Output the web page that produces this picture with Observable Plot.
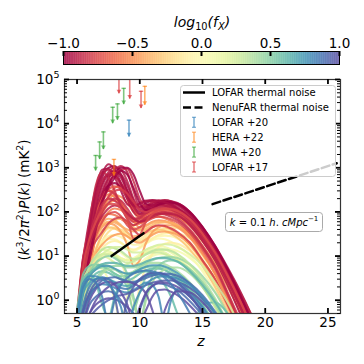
<!DOCTYPE html>
<html><head><meta charset="utf-8">
<script src="https://cdn.jsdelivr.net/npm/d3@7"></script>
<script src="https://cdn.jsdelivr.net/npm/@observablehq/plot@0.6"></script>
<style>
html,body{margin:0;padding:0;background:#fff;}
#chart svg{display:block;}
</style></head><body><div id="chart"></div>
<script>
const FONT = "DejaVu Sans";

// ---------- data ----------
const zGrid = [5,5.5,6,6.5,7,7.5,8,8.5,9,9.5,10,10.5,11,11.5,12,12.5,13,14,15,16,17,18,19,20];

const yellowFx = [0.00,-0.15,0.10,0.20,-0.10,0.05,-0.20,0.15,-0.05,0.10,-0.10];
const yellowP = [
 [0.3,3,8,14,20,24,24,20,15,13,15,19,23,25,24,21,17,10,4.5,1.6,0.45,0.11,0.03,0.01],
 [0.2,1.5,6,15,30,42,45,38,28,22,24,30,36,40,40,37,32,20,10,4,1.3,0.35,0.09,0.02],
 [0.5,4,7,9,11,12,11,9,8,9,11,14,16,17,16,14,11,6,2.6,0.9,0.25,0.06,0.02,0.01],
 [0.2,2,5,8,10,9,7,6,6.5,8,10,12,13,13,12,10,8,4.5,2,0.7,0.2,0.05,0.01,0.01],
 [0.1,0.6,3,8,15,20,22,20,16,14,16,20,25,30,33,34,33,25,15,7,2.8,0.9,0.25,0.05],
 [0.1,1,4,9,14,16,15,12,9,7,7,9,11,13,14,14,13,9,5,2.2,0.8,0.22,0.05,0.01],
 [0.1,0.5,3,10,22,35,42,40,32,24,22,26,32,38,42,44,43,34,21,10,4,1.3,0.35,0.07],
 [0.4,5,10,13,14,13,11,9,8,8.5,10,12.5,14.5,15,14,12,9.5,5,2.2,0.8,0.22,0.05,0.01,0.01],
 [0.2,2,7,14,22,28,30,27,22,18,18,21,25,28,29,28,25,16,8,3.2,1.1,0.3,0.07,0.01],
 [0.3,2.5,5,6,5,3,1,0.3,1.2,3,5.5,8,10,11,11,10,8.5,5,2.4,0.9,0.3,0.08,0.02,0.01],
 [0.1,1,3,6,9,11,10,7,3,0.6,2,6,11,16,19,20,19,13,7,3,1,0.3,0.08,0.02]
];

const orangeFx = [-0.60,-0.50,-0.40,-0.65,-0.30,-0.55,-0.45,-0.60,-0.35,-0.50,-0.40,-0.65,-0.45];
const orangeP = [
 [0.2,3,20,80,180,250,220,150,90,60,55,65,75,78,72,62,50,28,12,4,1.1,0.28,0.07,0.02],
 [0.1,1,8,35,90,150,180,150,100,60,45,50,60,65,62,55,45,26,11,4,1,0.25,0.06,0.01],
 [0.2,2,10,30,55,70,65,50,35,28,30,38,45,48,46,40,33,18,7.5,2.6,0.7,0.17,0.04,0.01],
 [0.1,0.5,5,30,100,220,350,400,300,150,80,75,90,100,100,92,80,48,22,8,2.3,0.6,0.15,0.03],
 [0.3,3,12,25,38,45,42,35,28,25,28,34,38,40,37,32,26,14,6,2,0.55,0.13,0.03,0.01],
 [0.1,0.8,6,25,60,100,120,110,85,65,60,70,82,90,92,88,80,55,30,13,5,1.5,0.4,0.08],
 [0.5,4,8,12,18,25,30,32,28,22,20,24,30,35,36,34,30,18,8,3,0.8,0.2,0.05,0.01],
 [0.2,5,18,40,70,90,85,70,55,50,55,68,80,88,90,86,78,50,25,10,3.2,0.9,0.22,0.05],
 [0.1,1,5,14,30,50,65,70,60,45,38,42,50,56,58,56,50,33,17,7,2.4,0.7,0.18,0.04],
 [0.2,2,12,45,110,190,240,220,160,100,70,70,80,88,90,86,78,48,23,9,2.8,0.75,0.18,0.04],
 [0.3,4,14,30,50,60,58,48,40,36,40,48,56,60,60,56,50,32,16,6.5,2.2,0.6,0.15,0.03],
 [0.2,6,30,100,220,300,260,170,100,70,70,85,100,110,112,108,98,62,30,11,3.4,0.9,0.2,0.04],
 [0.3,3,12,28,45,55,50,35,18,6,8,20,35,45,50,50,46,30,15,6,2,0.55,0.13,0.03]
];

const greenFx = [0.40,0.50,0.30,0.60,0.45,0.35,0.55,0.25,0.60,0.50,0.40];
const greenP = [
 [0.5,3,5,6,6.5,6,5,4.2,4,4.5,5.5,6.5,7,7,6.5,5.5,4.5,2.5,1.1,0.4,0.1,0.03,0.01,0.01],
 [0.2,1.5,3.5,5,5.5,5,4,3.2,2,0.6,1.5,3.5,5,6,5.5,4.6,3.6,1.9,0.8,0.28,0.07,0.02,0.01,0.01],
 [0.3,2.5,6,9,11,11,10,8,7,7.5,9,11,12,12,11,9.5,8,4.5,2,0.7,0.2,0.05,0.01,0.01],
 [0.1,0.8,2.5,4,4.5,4.2,3.5,3,2.8,3.2,4,4.8,5.2,5.2,4.8,4,3.2,1.7,0.75,0.26,0.07,0.02,0.01,0.01],
 [0.1,0.5,1.5,3,4.5,5.5,6,6,5.5,5.5,6,7,8,9,9.5,9.5,9,6.5,3.5,1.5,0.5,0.15,0.04,0.01],
 [0.2,2,6,10,14,16,15,13,10,8.5,9,11,13,14,14,13,11,6.5,3,1.1,0.3,0.08,0.02,0.01],
 [0.6,4,6,6.5,6,5,4,3.5,3.6,4.2,5,5.6,5.8,5.5,4.8,4,3.1,1.6,0.7,0.25,0.07,0.02,0.01,0.01],
 [0.1,1,3.5,7,11,14,16,16,14,12,12,14,16,18,18.5,18,16,11,6,2.5,0.9,0.25,0.06,0.01],
 [0.4,3,4,2.5,0.8,0.4,1.2,2.5,3.5,4.2,4.5,4.5,4,3.2,2.2,1.2,0.5,0.2,0.8,0.9,0.5,0.15,0.04,0.01],
 [0.2,1.5,4,7,9,10,9,7,4,1.2,0.3,1.2,3.5,6,7.5,8,7.5,5,2.5,1,0.3,0.08,0.02,0.01],
 [0.1,0.4,1.2,2.5,4,5,5,4,2.5,1,0.3,1,2.5,4,5,5.5,5.5,4,2,0.8,0.25,0.07,0.02,0.01]
];

const blueFx = [0.70,0.80,0.90,1.00,0.75,0.95,0.85,1.00,0.65,0.90,0.95,0.85,1.00,0.80];
const blueP = [
 [0.3,1.5,2.5,3,3.2,3,2.6,2.2,2.1,2.4,3,3.5,3.8,3.8,3.5,3,2.4,1.3,0.6,0.2,0.05,0.01,0.01,0.01],
 [0.1,0.6,1.4,2,2.3,2.2,1.9,1.6,1.5,1.7,2.1,2.5,2.2,1.2,0.3,1.0,1.8,1.2,0.55,0.2,0.06,0.02,0.01,0.01],
 [0.1,0.3,0.8,1.2,1.5,1.6,1.4,1.0,0.5,0.2,0.6,1.4,2.1,2.4,2.3,2,1.7,0.95,0.45,0.15,0.04,0.01,0.01,0.01],
 [0.05,0.2,0.5,0.8,1,1.1,1.05,0.9,0.7,0.5,0.3,0.6,1.2,1.7,1.75,1.55,1.3,0.75,0.35,0.12,0.03,0.01,0.01,0.01],
 [0.2,1.5,3.5,5,6,6,5.2,4.4,4,4.2,5,5.8,6.2,6.2,5.8,5,4.1,2.3,1,0.38,0.11,0.03,0.01,0.01],
 [0.05,0.2,0.4,0.6,0.8,1,1.2,1.3,1.4,1.6,1.9,2.2,2.5,2.7,2.8,2.8,2.6,1.9,1.1,0.5,0.18,0.05,0.01,0.01],
 [0.1,0.8,2,3,3.3,3,2.4,1.9,1.8,2.2,2.9,3.6,4,4.1,3.8,3.3,2.7,1.5,0.7,0.25,0.07,0.02,0.01,0.01],
 [0.05,0.3,1,1.8,2.4,2.6,2.2,1.5,0.8,0.3,0.7,1.5,2.1,2.5,2.5,2.3,2,1.2,0.55,0.2,0.06,0.02,0.01,0.01],
 [0.2,2,4,5.5,6.5,7,7,6.5,6,6,6.5,7.5,8.5,9,9,8.5,7.5,4.5,2.2,0.9,0.3,0.08,0.02,0.01],
 [0.1,0.5,1.2,2,2.8,3.2,3.3,3,2.7,2.6,2.8,3.2,3.6,3.9,4,3.9,3.6,2.4,1.3,0.55,0.2,0.05,0.01,0.01],
 [0.1,0.6,1.5,2.5,3,2.5,1.2,0.3,1,2,3,3.8,4.2,4.2,3.8,3.2,2.5,1.3,0.5,0.15,0.04,0.01,0.01,0.01],
 [0.3,2,3,2.5,1.2,0.3,1.0,2.2,3.2,4,4.5,4.7,4.5,4,3.2,2.3,1.5,0.5,0.12,0.03,0.01,0.01,0.01,0.01],
 [0.05,0.2,0.5,1,1.5,2,2.4,2.6,2.6,2.4,2,1.4,0.6,0.2,0.6,1.2,1.6,1.5,0.9,0.4,0.12,0.03,0.01,0.01],
 [0.5,2.5,3.5,3.5,3,2.3,1.5,0.7,0.2,0.7,1.5,2.3,3,3.4,3.5,3.4,3.1,2.2,1.2,0.5,0.15,0.04,0.01,0.01]
];

const redFx = [-1.00,-0.95,-0.90,-0.85,-1.00,-0.80,-0.90,-0.75,-0.95,-0.85,-0.80,-1.00,-0.90,-0.70,-0.95,-0.85,-0.90,-1.00,-0.85,-0.95,-0.80,-0.90,-0.75];
const redP = [
 [0.1,4,40,200,600,1000,1100,700,300,150,130,160,180,175,160,140,115,70,32,12,3.5,0.9,0.2,0.04],
 [0.2,8,70,350,900,950,600,300,150,130,160,180,175,160,140,115,90,50,22,8,2.2,0.5,0.12,0.03],
 [0.1,2,20,90,300,600,900,1100,800,300,130,140,165,175,170,150,125,75,34,12,3.5,0.9,0.2,0.04],
 [0.1,1.5,12,60,200,450,700,900,950,500,200,130,140,155,155,140,120,75,35,13,4,1,0.25,0.05],
 [0.1,5,30,100,250,400,450,350,200,110,90,110,135,145,140,125,105,62,28,10,2.8,0.7,0.15,0.03],
 [0.3,10,40,120,250,300,250,150,80,60,70,90,105,108,100,88,72,40,17,6,1.5,0.35,0.08,0.02],
 [0.1,3,25,150,450,800,1000,900,500,200,120,135,160,180,185,175,150,88,40,15,4.5,1.2,0.3,0.06],
 [0.5,8,15,30,60,90,100,80,50,40,45,60,72,78,76,68,58,33,14,5,1.3,0.3,0.07,0.02],
 [0.1,2,12,70,250,550,800,700,400,180,110,125,150,170,180,175,160,100,45,17,5.5,1.6,0.4,0.08],
 [0.2,6,60,400,800,600,300,130,70,50,60,75,88,92,88,78,65,37,16,5.5,1.4,0.3,0.07,0.02],
 [0.3,7,14,22,35,55,70,75,60,40,30,35,45,50,48,42,35,20,8,3,0.8,0.2,0.05,0.01],
 [0.1,1,8,40,150,400,750,1000,1000,700,300,150,140,160,170,165,150,95,44,16,5,1.3,0.3,0.06],
 [0.2,6,50,250,700,900,700,400,200,100,80,100,125,140,140,130,115,70,32,12,3.5,0.9,0.2,0.04],
 [0.2,4,25,90,200,320,380,340,220,120,80,85,100,110,110,102,90,55,25,9,2.6,0.7,0.15,0.03],
 [0.1,3,20,120,400,700,850,600,300,140,100,115,140,155,160,155,140,85,40,15,4.5,1.2,0.3,0.06],
 [0.4,10,25,50,100,160,200,180,120,75,60,70,85,95,98,95,85,52,24,9,2.8,0.7,0.17,0.04],
 [0.2,5,35,180,500,700,650,450,250,130,90,95,115,130,135,130,120,75,35,13,4,1,0.25,0.05],
 [0.1,2,15,60,180,350,600,850,700,350,160,110,120,145,160,162,155,100,46,17,5,1.3,0.3,0.06],
 [0.3,9,30,80,150,200,180,130,90,70,75,95,115,125,122,112,98,60,27,10,3,0.75,0.18,0.04],
 [0.2,6,45,300,750,1200,900,450,220,140,150,175,185,180,165,145,120,72,33,12,3.5,0.9,0.2,0.04],
 [0.2,3,18,60,130,220,300,320,260,170,110,100,110,120,122,118,108,68,32,12,3.6,0.95,0.22,0.05],
 [0.3,8,20,45,80,120,140,125,95,70,60,65,78,88,92,90,82,52,24,9,2.7,0.7,0.16,0.03],
 [0.3,6,25,60,110,150,150,120,70,25,30,60,90,110,118,115,105,68,32,12,3.6,0.95,0.22,0.05]
];

// thermal noise lines
const lofarZ = [7.75, 10.3];
const lofarP = [10, 33];
const nenuZ = [15.8, 25.7];
const nenuP = [150, 1270];

// upper limits
const limSet = ["LOFAR +17","LOFAR +17","LOFAR +17","HERA +22","HERA +22","MWA +20","MWA +20","MWA +20","MWA +20","MWA +20","MWA +20","LOFAR +20"];
const limZ   = [8.34, 9.2, 10.1, 10.4, 7.94, 8.72, 8.22, 7.84, 7.1, 6.8, 6.48, 9.14];
const limTop = [2e5, 2e5, 5.4e4, 7e4, 1550, 6.3e4, 2.8e4, 2.35e4, 6.5e3, 3.85e3, 1.9e3, 1.2e4];
const limLow = [4.75e4, 3.6e4, 2.2e4, 2.6e4, 650, 2.7e4, 1.2e4, 1e4, 2.6e3, 1.55e3, 850, 5e3];

const setNames  = ["LOFAR +20","HERA +22","MWA +20","LOFAR +17"];
const setColors = ["#1f77b4","#ff7f0e","#2ca02c","#d62728"];
const lineNames = ["LOFAR thermal noise","NenuFAR thermal noise"];

// ticks
const xTicks = [5,10,15,20,25];
const yMajor = [1,10,100,1000,10000,100000];
const yMinor = [0.5,0.6,0.7,0.8,0.9].concat(...[1,10,100,1000,10000].map(d => [2,3,4,5,6,7,8,9].map(m => m*d)));
const cbTicks = [-1,-0.5,0,0.5,1];

// ---------- build tables ----------
const rows = [];
let cid = 0;
[[yellowFx,yellowP],[orangeFx,orangeP],[redFx,redP],[greenFx,greenP],[blueFx,blueP]].forEach(([fx, P]) => {
  P.forEach((vals, i) => {
    vals.forEach((p, j) => rows.push({id: cid, fx: fx[i], z: zGrid[j], p}));
    cid++;
  });
});
const lofar = lofarZ.map((z,i) => ({z, p: lofarP[i]}));
const nenu = nenuZ.map((z,i) => ({z, p: nenuP[i]}));
const limits = limZ.map((z,i) => ({z, top: limTop[i], low: limLow[i], set: limSet[i]}));

const capSymbol = {draw(ctx, size){ const r = Math.sqrt(size/Math.PI); ctx.moveTo(-r,0); ctx.lineTo(r,0); }};
const arrowSymbol = {draw(ctx, size){ const r = Math.sqrt(size/Math.PI); ctx.moveTo(0,0); ctx.lineTo(-r,-1.7*r); ctx.lineTo(r,-1.7*r); ctx.closePath(); }};

const FW = 276, FH = 234;
const colorScale = {type: "linear", scheme: "spectral", domain: [-1, 1]};

// ---------- colorbar ----------
const cbSteps = d3.range(-1, 1, 0.005);
const cb = Plot.plot({
  width: 364, height: 68, marginLeft: 63, marginRight: 25, marginTop: 51, marginBottom: 4,
  style: {fontFamily: FONT, fontSize: "13.5px", background: "white", color: "black"},
  x: {domain: [-1, 1], ticks: cbTicks, tickFormat: d3.format(".1f"), tickSize: 0, tickPadding: 4, axis: "top", label: null},
  y: {domain: [0, 1], axis: null},
  color: colorScale,
  marks: [
    Plot.rect(cbSteps, {x1: d => d, x2: d => Math.min(1, d + 0.0056), y1: 0, y2: 1, fill: d => d + 0.0025}),
    Plot.frame({stroke: "black", strokeWidth: 1}),
    Plot.ruleX(cbTicks, {x: d => d, insetBottom: 13 - 5, stroke: "black", strokeWidth: 2})
  ]
});

// ---------- main plot ----------
const limitMarks = setNames.flatMap((s, k) => {
  const d = limits.filter(l => l.set === s);
  return [
    Plot.ruleX(d, {x: "z", y1: "top", y2: "low", stroke: setColors[k], strokeOpacity: 0.6, strokeWidth: 1.6, clip: true}),
    Plot.dot(d, {x: "z", y: "top", symbol: capSymbol, r: 2.2, stroke: setColors[k], strokeOpacity: 0.6, strokeWidth: 1.4, clip: true}),
    Plot.dot(d, {x: "z", y: "low", symbol: arrowSymbol, r: 2.4, fill: setColors[k], fillOpacity: 0.6, stroke: "none", clip: true})
  ];
});

const main = Plot.plot({
  width: 364, height: 296, marginTop: 11, marginBottom: 51, marginLeft: 64, marginRight: 24,
  style: {fontFamily: FONT, fontSize: "13.5px", background: "white", color: "black"},
  x: {domain: [4, 26], ticks: xTicks, tickSize: 0, tickPadding: 4, label: null},
  y: {type: "log", domain: [0.5, 1e5], ticks: yMajor, tickFormat: d => "10^" + Math.round(Math.log10(d)), tickSize: 0, tickPadding: 5, label: null},
  color: colorScale,
  marks: [
    Plot.line(rows, {x: "z", y: "p", z: "id", stroke: "fx", strokeWidth: 2.1, strokeOpacity: 0.85, curve: "monotone-x", clip: true}),
    Plot.line(lofar, {x: "z", y: "p", stroke: "black", strokeWidth: 2.5}),
    Plot.line(nenu, {x: "z", y: "p", stroke: "black", strokeWidth: 2.5, strokeDasharray: "8,3.5", clip: true}),
    ...limitMarks,
    Plot.frame({stroke: "#333", strokeWidth: 1.2}),
    Plot.ruleX(xTicks, {x: d => d, insetTop: FH - 5, stroke: "black", strokeWidth: 1.8}),
    Plot.ruleX(xTicks, {x: d => d, insetBottom: FH - 5, stroke: "black", strokeWidth: 1.8}),
    Plot.ruleY(yMajor, {y: d => d, insetRight: FW - 5, stroke: "black", strokeWidth: 1.8}),
    Plot.ruleY(yMajor, {y: d => d, insetLeft: FW - 5, stroke: "black", strokeWidth: 1.8}),
    Plot.ruleY(yMinor, {y: d => d, insetRight: FW - 3, stroke: "black", strokeWidth: 1}),
    Plot.ruleY(yMinor, {y: d => d, insetLeft: FW - 3, stroke: "black", strokeWidth: 1})
  ]
});

// ---------- rich text helper ----------
function rich(sel, parts, base) {
  let cur = 0;
  parts.forEach(p => {
    const target = p.sup ? -base * 0.42 : p.sub ? base * 0.22 : 0;
    const t = sel.append("tspan").text(p.t);
    if (target !== cur) t.attr("dy", target - cur);
    cur = target;
    if (p.i) t.attr("font-style", "italic");
    if (p.sup || p.sub) t.attr("font-size", (base * 0.7) + "px");
  });
}

// y tick labels as 10 with superscript
d3.select(main).selectAll('g[aria-label="y-axis tick label"] text').each(function () {
  const e = this.textContent.split("^")[1];
  const t = d3.select(this);
  t.text(null);
  t.append("tspan").text("10");
  t.append("tspan").attr("dy", -5.5).attr("font-size", "9.5px").text(e);
});

const ms = d3.select(main);
ms.attr("font-family", FONT);
// x label
rich(ms.append("text").attr("x", 201).attr("y", 278).attr("text-anchor", "middle").attr("font-size", "14px"), [{t: "z", i: true}], 14);
// y label
rich(ms.append("text").attr("transform", "translate(29,132) rotate(-90)").attr("text-anchor", "middle").attr("font-size", "13.5px"),
  [{t: "("}, {t: "k", i: true}, {t: "3", sup: true}, {t: "/2"}, {t: "π", i: true}, {t: "2", sup: true}, {t: ")"}, {t: "P", i: true}, {t: "("}, {t: "k", i: true}, {t: ") (mK"}, {t: "2", sup: true}, {t: ")"}], 13.5);

// legend
const lg = ms.append("g").attr("font-size", "10px").attr("text-anchor", "start");
lg.append("rect").attr("x", 180.5).attr("y", 17.5).attr("width", 155).attr("height", 91).attr("rx", 3)
  .attr("fill", "white").attr("fill-opacity", 0.8).attr("stroke", "#cccccc");
const rowY = i => 24.5 + i * 14.9;
lineNames.forEach((n, i) => {
  const l = lg.append("line").attr("x1", 183).attr("x2", 205).attr("y1", rowY(i)).attr("y2", rowY(i)).attr("stroke", "black").attr("stroke-width", 2.5);
  if (i === 1) l.attr("stroke-dasharray", "8,3.5");
  lg.append("text").attr("x", 212).attr("y", rowY(i)).attr("dy", "0.35em").text(n);
});
setNames.forEach((n, k) => {
  const y = rowY(k + 2);
  const g = lg.append("g").attr("stroke", setColors[k]).attr("stroke-opacity", 0.6);
  g.append("line").attr("x1", 194).attr("x2", 194).attr("y1", y - 5).attr("y2", y + 5).attr("stroke-width", 1.5);
  g.append("line").attr("x1", 192).attr("x2", 196).attr("y1", y - 5).attr("y2", y - 5).attr("stroke-width", 1.2);
  g.append("line").attr("x1", 192).attr("x2", 196).attr("y1", y + 5).attr("y2", y + 5).attr("stroke-width", 1.2);
  lg.append("text").attr("x", 212).attr("y", y).attr("dy", "0.35em").text(n);
});

// k annotation box
const kb = ms.append("g").attr("font-size", "10px");
kb.append("rect").attr("x", 225.5).attr("y", 144.5).attr("width", 97).attr("height", 19).attr("rx", 3)
  .attr("fill", "white").attr("stroke", "#aaaaaa");
rich(kb.append("text").attr("x", 274).attr("y", 157.5).attr("text-anchor", "middle"),
  [{t: "k", i: true}, {t: " = 0.1 "}, {t: "h", i: true}, {t: ". "}, {t: "cMpc", i: true}, {t: "−1", sup: true}], 10);

// colorbar title
const cs = d3.select(cb);
cs.attr("font-family", FONT);
rich(cs.append("text").attr("x", 202).attr("y", 27).attr("text-anchor", "middle").attr("font-size", "14px"),
  [{t: "log", i: true}, {t: "10", sub: true}, {t: "(", i: true}, {t: "f", i: true}, {t: "X", sub: true, i: true}, {t: ")", i: true}], 14);

document.getElementById("chart").append(cb, main);
</script></body></html>
